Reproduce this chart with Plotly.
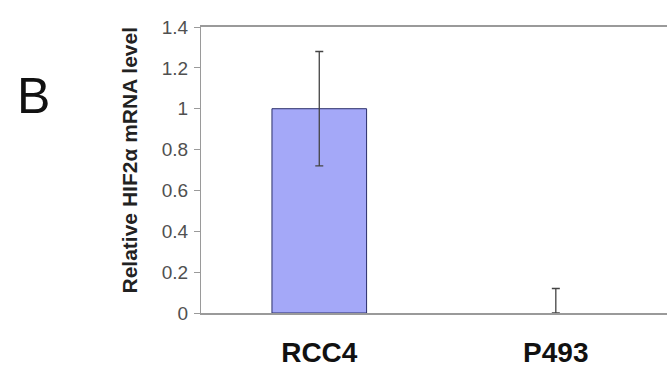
import plotly.graph_objects as go

categories = ["RCC4", "P493"]
values = [1.0, 0.0]
err_plus = [0.28, 0.12]
err_minus = [0.28, 0.0]
y_ticks = [0, 0.2, 0.4, 0.6, 0.8, 1, 1.2, 1.4]
y_tick_labels = ["0", "0.2", "0.4", "0.6", "0.8", "1", "1.2", "1.4"]

W, H = 667, 373
PX0, PX1 = 201, 667      # plot area on screen (x)
PY0, PY1 = 27, 313       # plot area on screen (y)
L, R, T, B = PX0, W - PX1, PY0, H - PY1


def px(x):
    return (x - PX0) / (PX1 - PX0)


def py(y):
    return (PY1 - y) / (PY1 - PY0)


fig = go.Figure()
fig.add_trace(go.Bar(
    x=categories, y=values, width=0.4,
    marker=dict(color="#a4a8f8",
                line=dict(color="#2a2e6a", width=[1 if v > 0 else 0 for v in values])),
    error_y=dict(type="data", symmetric=False, array=err_plus, arrayminus=err_minus,
                 color="#444444", thickness=1.3, width=4),
))

fig.update_layout(
    width=W, height=H,
    margin=dict(l=L, r=R, t=T, b=B, autoexpand=False),
    paper_bgcolor="white", plot_bgcolor="white",
    showlegend=False,
    font=dict(family="Liberation Sans, Arial, sans-serif"),
    xaxis=dict(
        range=[-0.5, 1.47], showgrid=False, zeroline=False,
        showline=True, mirror=True, linecolor="#9a9a9a", linewidth=1.5,
        layer="above traces", automargin=False,
        ticks="", tickfont=dict(size=28, color="#111111", weight="bold"),
        ticklabelstandoff=14,
    ),
    yaxis=dict(
        range=[0, 1.4], showgrid=False, zeroline=False,
        showline=True, linecolor="#9a9a9a", linewidth=1.2,
        automargin=False,
        ticks="outside", ticklen=6, tickcolor="#9a9a9a",
        tickvals=y_ticks, ticktext=y_tick_labels,
        tickfont=dict(size=19, color="#505050"),
        ticklabelstandoff=2,
    ),
    annotations=[
        dict(text="<b>Relative HIF2α mRNA level</b>", textangle=-90,
             x=px(128.5), y=py(160),
             xref="paper", yref="paper", showarrow=False,
             xanchor="center", yanchor="middle",
             font=dict(size=21, color="#222222")),
        dict(text="B", x=px(33), y=py(96),
             xref="paper", yref="paper", showarrow=False,
             xanchor="center", yanchor="middle",
             font=dict(size=50, color="#111111")),
    ],
)

fig.write_html(
    "out.html",
    config={"displayModeBar": False},
    post_script="document.body.style.margin='0';document.body.style.overflow='hidden';",
)
